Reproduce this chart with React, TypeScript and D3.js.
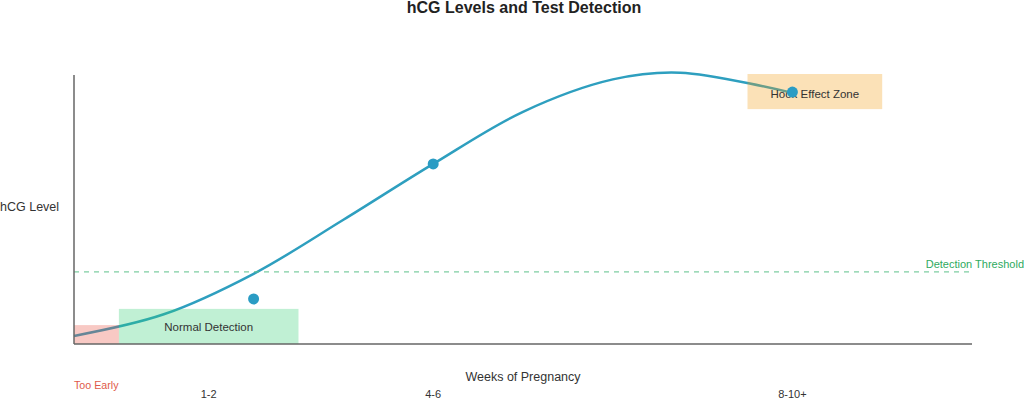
import React, { useEffect, useRef } from 'react';
import * as d3 from 'd3';

// hCG curve samples (week, relative level)
const curveWeeks = [0, 1, 2, 3, 4, 5, 6, 6.75, 8];
const curveLevels = [3, 11, 26, 46, 66.7, 86, 98, 100.5, 93];

// highlighted points
const pointWeeks = [2, 4, 8];
const pointLevels = [16.7, 66.7, 93.3];

// x tick labels
const tickWeeks = [1.5, 4, 8];
const tickLabels = ['1-2', '4-6', '8-10+'];

// zones
const zoneNames = ['Too Early', 'Normal Detection', 'Hook Effect Zone'];
const zoneStart = [0, 0.5, 7.5];
const zoneEnd = [0.5, 2.5, 9];
const zoneLow = [0, 0, 87];
const zoneHigh = [7, 13, 100];
const zoneColors = ['#e74c3c', '#2ecc71', '#f39c12'];

const threshold = 26.7;

const HcgChart = () => {
    const ref = useRef<SVGSVGElement>(null);

    useEffect(() => {
        const svg = d3.select(ref.current);
        svg.selectAll('*').remove();

        const x = d3.scaleLinear().domain([0, 10]).range([74, 972]);
        const y = d3.scaleLinear().domain([0, 100]).range([344, 74]);
        const font = 'Liberation Sans, Arial, sans-serif';

        // title
        svg.append('text')
            .attr('x', 524).attr('y', 13)
            .attr('text-anchor', 'middle')
            .attr('font-family', font)
            .attr('font-weight', 'bold')
            .attr('font-size', 16)
            .attr('fill', '#222')
            .text('hCG Levels and Test Detection');

        // curve
        const pts = curveWeeks.map((w, i) => [w, curveLevels[i]] as [number, number]);
        const line = d3.line<[number, number]>()
            .x(d => x(d[0]))
            .y(d => y(d[1]))
            .curve(d3.curveCatmullRom.alpha(0.5));
        svg.append('path')
            .datum(pts)
            .attr('fill', 'none')
            .attr('stroke', '#2e9fbf')
            .attr('stroke-width', 2.5)
            .attr('d', line);

        // zones (drawn over the curve, translucent)
        zoneNames.forEach((name, i) => {
            svg.append('rect')
                .attr('x', x(zoneStart[i]))
                .attr('y', y(zoneHigh[i]))
                .attr('width', x(zoneEnd[i]) - x(zoneStart[i]))
                .attr('height', y(zoneLow[i]) - y(zoneHigh[i]))
                .attr('fill', zoneColors[i])
                .attr('opacity', 0.3);
        });
        svg.append('text')
            .attr('x', x((zoneStart[1] + zoneEnd[1]) / 2)).attr('y', 331)
            .attr('text-anchor', 'middle')
            .attr('font-family', font).attr('font-size', 11.5).attr('fill', '#333')
            .text(zoneNames[1]);
        svg.append('text')
            .attr('x', x((zoneStart[2] + zoneEnd[2]) / 2)).attr('y', 98)
            .attr('text-anchor', 'middle')
            .attr('font-family', font).attr('font-size', 11.5).attr('fill', '#333')
            .text(zoneNames[2]);
        svg.append('text')
            .attr('x', x(0)).attr('y', 389)
            .attr('font-family', font).attr('font-size', 10.7).attr('fill', '#e05a4a')
            .text(zoneNames[0]);

        // threshold
        svg.append('line')
            .attr('x1', x(0)).attr('x2', 970)
            .attr('y1', y(threshold)).attr('y2', y(threshold))
            .attr('stroke', '#5cc08a')
            .attr('stroke-width', 1)
            .attr('stroke-dasharray', '5,5');
        svg.append('text')
            .attr('x', 1024).attr('y', y(threshold) - 4)
            .attr('text-anchor', 'end')
            .attr('font-family', font).attr('font-size', 11).attr('fill', '#2eaa5e')
            .text('Detection Threshold');

        // axes
        svg.append('line')
            .attr('x1', x(0)).attr('x2', x(0)).attr('y1', 75).attr('y2', y(0))
            .attr('stroke', '#666').attr('stroke-width', 1.5);
        svg.append('line')
            .attr('x1', x(0)).attr('x2', x(10)).attr('y1', y(0)).attr('y2', y(0))
            .attr('stroke', '#666').attr('stroke-width', 1.5);

        // points
        svg.selectAll('circle.pt')
            .data(pointWeeks)
            .enter()
            .append('circle')
            .attr('class', 'pt')
            .attr('cx', d => x(d))
            .attr('cy', (d, i) => y(pointLevels[i]))
            .attr('r', 5.5)
            .attr('fill', '#2a9cc4');

        // ticks
        svg.selectAll('text.tick')
            .data(tickWeeks)
            .enter()
            .append('text')
            .attr('class', 'tick')
            .attr('x', d => x(d))
            .attr('y', 398)
            .attr('text-anchor', 'middle')
            .attr('font-family', font).attr('font-size', 11).attr('fill', '#333')
            .text((d, i) => tickLabels[i]);

        // axis labels
        svg.append('text')
            .attr('x', 523).attr('y', 381)
            .attr('text-anchor', 'middle')
            .attr('font-family', font).attr('font-size', 12.5).attr('fill', '#333')
            .text('Weeks of Pregnancy');
        svg.append('text')
            .attr('x', 0).attr('y', 211)
            .attr('font-family', font).attr('font-size', 12.5).attr('fill', '#333')
            .text('hCG Level');
    }, []);

    return (
        <svg ref={ref} width={1024} height={399}
            style={{ position: 'absolute', left: 0, top: 0, background: '#fff' }} />
    );
};

export default function App() {
    return <HcgChart />;
}
